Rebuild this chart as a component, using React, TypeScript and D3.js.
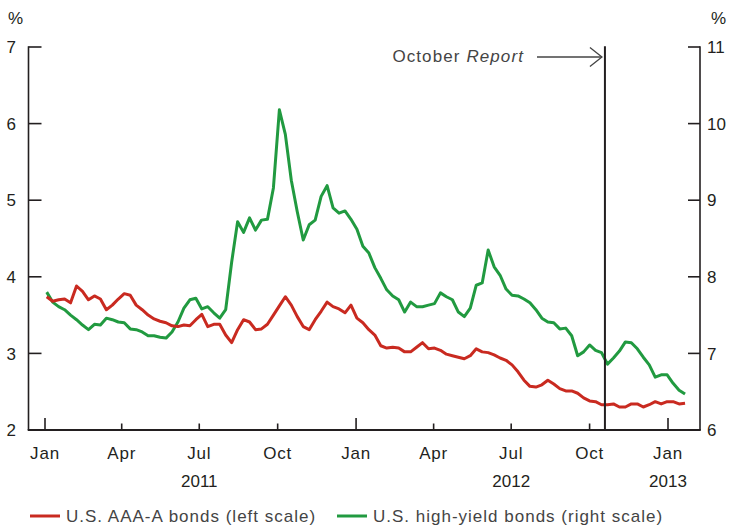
import React from "react";
import * as d3 from "d3";

const startDate = new Date(2011, 0, 3);
const aaaA = [
  3.74, 3.68, 3.70, 3.71, 3.66, 3.88, 3.81, 3.70, 3.75, 3.71,
  3.57, 3.63, 3.71, 3.78, 3.76, 3.63, 3.57, 3.50, 3.45, 3.42,
  3.40, 3.36, 3.35, 3.37, 3.36, 3.44, 3.51, 3.35, 3.38, 3.38,
  3.24, 3.14, 3.31, 3.44, 3.41, 3.31, 3.32, 3.38, 3.50, 3.62,
  3.74, 3.63, 3.48, 3.35, 3.31, 3.44, 3.55, 3.67, 3.61, 3.58,
  3.53, 3.63, 3.46, 3.40, 3.31, 3.24, 3.10, 3.07, 3.08, 3.07,
  3.02, 3.02, 3.08, 3.14, 3.06, 3.07, 3.04, 2.99, 2.97, 2.95,
  2.93, 2.97, 3.06, 3.02, 3.01, 2.98, 2.94, 2.91, 2.85, 2.76,
  2.65, 2.57, 2.56, 2.59, 2.65, 2.60, 2.54, 2.51, 2.51, 2.48,
  2.42, 2.38, 2.37, 2.33, 2.33, 2.34, 2.30, 2.30, 2.34, 2.34,
  2.30, 2.33, 2.37, 2.34, 2.37, 2.37, 2.34, 2.35,
];
const highYield = [
  7.80, 7.67, 7.61, 7.57, 7.50, 7.44, 7.37, 7.31, 7.38, 7.37,
  7.46, 7.44, 7.41, 7.40, 7.32, 7.31, 7.28, 7.23, 7.23, 7.21,
  7.20, 7.28, 7.41, 7.59, 7.70, 7.72, 7.58, 7.61, 7.53, 7.46,
  7.57, 8.19, 8.72, 8.58, 8.77, 8.61, 8.74, 8.75, 9.16, 10.18,
  9.86, 9.26, 8.85, 8.48, 8.68, 8.74, 9.05, 9.19, 8.90, 8.83,
  8.86, 8.75, 8.62, 8.40, 8.31, 8.12, 7.98, 7.83, 7.75, 7.70,
  7.54, 7.67, 7.61, 7.61, 7.63, 7.65, 7.79, 7.74, 7.70, 7.54,
  7.48, 7.59, 7.89, 7.92, 8.35, 8.13, 8.02, 7.84, 7.76, 7.75,
  7.71, 7.66, 7.57, 7.46, 7.41, 7.40, 7.32, 7.33, 7.23, 6.97,
  7.02, 7.11, 7.04, 7.01, 6.86, 6.94, 7.03, 7.15, 7.14, 7.06,
  6.95, 6.85, 6.69, 6.72, 6.72, 6.61, 6.52, 6.47,
];
const leftTicks = [2, 3, 4, 5, 6, 7];
const rightTicks = [6, 7, 8, 9, 10, 11];
const monthLabels = ["Jan", "Apr", "Jul", "Oct", "Jan", "Apr", "Jul", "Oct", "Jan"];
const yearLabels = ["2011", "2012", "2013"];
const yearLabelDates = [new Date(2011, 6, 1), new Date(2012, 6, 1), new Date(2013, 0, 1)];
const reportDate = new Date(2012, 9, 19);
const seriesNames = ["U.S. AAA-A bonds (left scale)", "U.S. high-yield bonds (right scale)"];

const RED = "#c92a20";
const GREEN = "#219a40";
const INK = "#231f20";
const FONT = "'Liberation Sans', Arial, Helvetica, sans-serif";

export default function App() {
  const W = 729, H = 526;
  const x = d3.scaleTime().domain([new Date(2011, 0, 1), new Date(2013, 0, 1)]).range([45, 668]);
  const yL = d3.scaleLinear().domain([2, 7]).range([430, 47]);
  const yR = d3.scaleLinear().domain([6, 11]).range([430, 47]);
  const dates = aaaA.map((_, i) => d3.timeDay.offset(startDate, 7 * i));
  const redLine = d3.line<number>().x((_, i) => x(dates[i])).y((d) => yL(d))(aaaA) || "";
  const greenLine = d3.line<number>().x((_, i) => x(dates[i])).y((d) => yR(d))(highYield) || "";
  const monthTicks = d3.timeMonth.range(new Date(2011, 0, 1), new Date(2013, 0, 2), 3);
  const axL = 28.5, axR = 700, axB = 430, axT = 47;
  const xr = x(reportDate);

  return (
    <svg width={W} height={H} style={{ position: "absolute", left: 0, top: 0 }} fontFamily={FONT}>
      <rect width={W} height={H} fill="#fff" />
      {/* axes */}
      <line x1={axL} x2={axL} y1={axT - 0.75} y2={axB} stroke={INK} strokeWidth={1.6} />
      <line x1={axR} x2={axR} y1={axT - 0.75} y2={axB} stroke={INK} strokeWidth={1.6} />
      <line x1={axL - 0.8} x2={axR + 0.8} y1={axB} y2={axB} stroke={INK} strokeWidth={1.8} />
      {leftTicks.map((t) => (
        <g key={"l" + t}>
          <line x1={axL} x2={axL + 13} y1={yL(t)} y2={yL(t)} stroke={INK} strokeWidth={1.6} />
          <text x={16} y={yL(t)} dy="0.36em" textAnchor="end" fontSize={17} fill={INK}>{t}</text>
        </g>
      ))}
      {rightTicks.map((t) => (
        <g key={"r" + t}>
          <line x1={axR - 12} x2={axR} y1={yR(t)} y2={yR(t)} stroke={INK} strokeWidth={1.6} />
          <text x={707} y={yR(t)} dy="0.36em" textAnchor="start" fontSize={17} fill={INK}>{t}</text>
        </g>
      ))}
      <text x={8} y={24} fontSize={17} fill={INK}>%</text>
      <text x={711} y={24} fontSize={17} fill={INK}>%</text>
      {monthTicks.map((d, i) => (
        <g key={"m" + i}>
          <line x1={x(d)} x2={x(d)} y1={axB} y2={d.getMonth() === 0 ? axB - 12 : axB - 6.5} stroke={INK} strokeWidth={1.6} />
          <text x={x(d)} y={459} textAnchor="middle" fontSize={17} letterSpacing={0.8} fill={INK}>{monthLabels[i]}</text>
        </g>
      ))}
      {yearLabels.map((s, i) => (
        <text key={s} x={x(yearLabelDates[i])} y={487} textAnchor="middle" fontSize={17} fill={INK}>{s}</text>
      ))}
      {/* series */}
      <path d={greenLine} fill="none" stroke={GREEN} strokeWidth={3} strokeLinejoin="round" />
      <path d={redLine} fill="none" stroke={RED} strokeWidth={3} strokeLinejoin="round" />
      {/* October Report marker */}
      <line x1={xr} x2={xr} y1={axT - 0.75} y2={axB} stroke={INK} strokeWidth={2} />
      <line x1={537} x2={xr - 3} y1={57} y2={57} stroke="#444" strokeWidth={1.3} />
      <polyline points={`${xr - 15},47.5 ${xr - 3},57 ${xr - 15},66.5`} fill="none" stroke="#444" strokeWidth={1.3} />
      <text x={524} y={62} textAnchor="end" fontSize={17} letterSpacing={1.1} fill="#444">
        October <tspan fontStyle="italic">Report</tspan>
      </text>
      {/* legend */}
      <line x1={30} x2={60} y1={516} y2={516} stroke={RED} strokeWidth={3} />
      <text x={66} y={522} fontSize={17} letterSpacing={1} fill="#444">{seriesNames[0]}</text>
      <line x1={337} x2={367} y1={516} y2={516} stroke={GREEN} strokeWidth={3} />
      <text x={373} y={522} fontSize={17} letterSpacing={1} fill="#444">{seriesNames[1]}</text>
    </svg>
  );
}
